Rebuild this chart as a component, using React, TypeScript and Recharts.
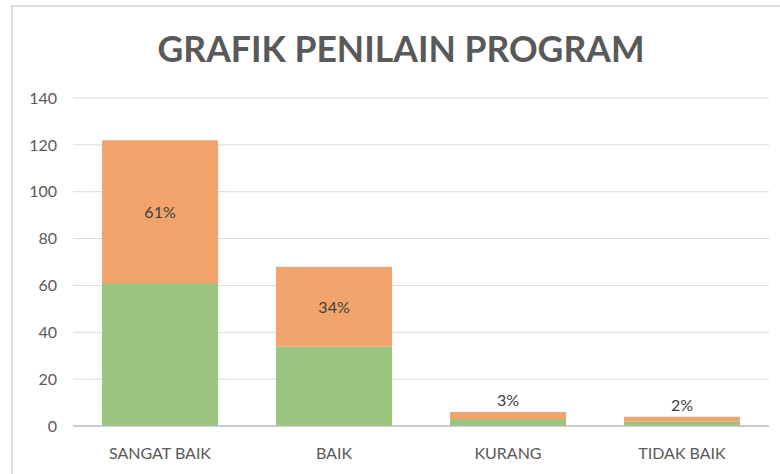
import { BarChart, Bar, XAxis, YAxis, CartesianGrid, LabelList } from 'recharts'

const categories = ['SANGAT BAIK', 'BAIK', 'KURANG', 'TIDAK BAIK']
const greenValues = [61, 34, 3, 2]
const orangeValues = [61, 34, 3, 2]
const percentLabels = ['61%', '34%', '3%', '2%']
const yTicks = [0, 20, 40, 60, 80, 100, 120, 140]

const chartData = categories.map((name, i) => ({
  name,
  green: greenValues[i],
  orange: orangeValues[i],
  label: percentLabels[i]
}))

const FONT = 'Lato, "Open Sans", sans-serif'

// label sits in the middle of the orange part, or above it when the bar is thin
function PercentLabel(props: any) {
  const { x, y, width, height, value } = props
  const big = height > 30
  return (
    <text
      x={x + width / 2}
      y={big ? y + height / 2 : y - 6}
      textAnchor="middle"
      dominantBaseline={big ? 'central' : 'auto'}
      fill="#404040"
      fontSize={16}
      fontFamily={FONT}
    >
      {value}
    </text>
  )
}

export default function App() {
  return (
    <div style={{ position: 'absolute', left: 0, top: 0, width: 780, height: 474, background: '#fff', overflow: 'hidden' }}>
      <div
        style={{
          position: 'absolute',
          left: 11,
          top: 5,
          width: 800,
          height: 500,
          borderLeft: '2px solid #dcdcdc',
          borderTop: '2px solid #dcdcdc'
        }}
      />
      <BarChart
        width={780}
        height={474}
        data={chartData}
        margin={{ top: 98, right: 11, left: 0, bottom: 0 }}
        barCategoryGap="16.7%"
        style={{ position: 'absolute', left: 0, top: 0 }}
      >
        <text
          x={401}
          y={62}
          textAnchor="middle"
          fontFamily={FONT}
          fontWeight="bold"
          fontSize={36}
          fill="#595959"
          textLength={487}
          lengthAdjust="spacingAndGlyphs"
        >
          GRAFIK PENILAIN PROGRAM
        </text>
        <CartesianGrid vertical={false} stroke="#d9d9d9" strokeWidth={1} />
        <XAxis
          dataKey="name"
          height={48}
          axisLine={{ stroke: '#bfbfbf', strokeWidth: 1.5 }}
          tickLine={false}
          tick={{ fill: '#595959', fontSize: 16, fontFamily: FONT }}
          tickMargin={16}
        />
        <YAxis
          width={73}
          domain={[0, 140]}
          ticks={yTicks}
          axisLine={false}
          tickLine={false}
          tickMargin={10}
          tick={{ fill: '#595959', fontSize: 16, fontFamily: FONT }}
        />
        <Bar dataKey="green" stackId="a" fill="#9bc47f" isAnimationActive={false} />
        <Bar dataKey="orange" stackId="a" fill="#f0a46c" isAnimationActive={false}>
          <LabelList dataKey="label" content={PercentLabel} />
        </Bar>
      </BarChart>
    </div>
  )
}
